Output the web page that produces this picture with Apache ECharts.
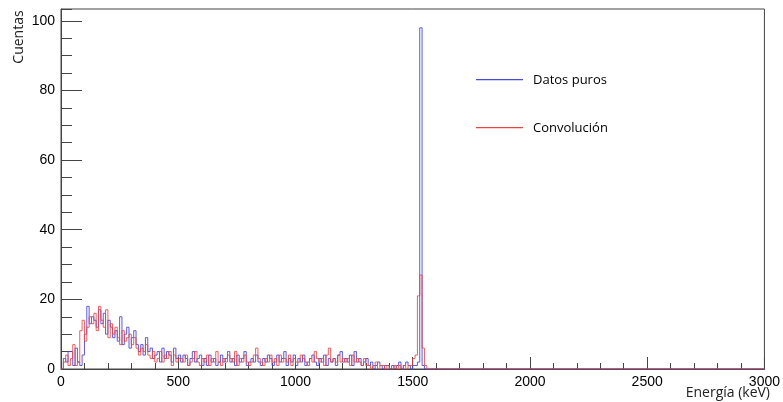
<!DOCTYPE html>
<html>
<head>
<meta charset="utf-8">
<script src="https://cdn.jsdelivr.net/npm/echarts@6/dist/echarts.min.js"></script>
<style>
html,body{margin:0;padding:0;background:#fff;}
#c{width:783px;height:402px;}
</style>
</head>
<body>
<div id="c"></div>
<script>
// Histogram bin width (keV)
const binWidth = 10;
const xMax = 3000;
// Counts per 10 keV bin from 0 to 1600 keV (after that all zero)
const datosPuros = [
  3,2,5,5,1,6,2,1,4,10,
  18,13,15,14,12,17,13,16,10,14,
  12,9,11,8,15,7,10,12,6,9,
  11,7,5,7,4,9,5,6,3,4,
  5,2,6,3,5,4,2,6,3,4,
  2,4,3,1,3,5,2,3,4,1,
  3,1,4,2,3,1,2,4,2,3,
  5,2,3,1,4,2,3,5,1,2,
  3,2,4,2,1,3,2,4,3,1,
  2,4,2,3,5,1,3,2,4,1,
  3,2,4,1,2,3,4,2,1,3,
  2,4,1,3,2,3,1,4,5,2,
  3,2,4,1,5,2,3,1,2,3,
  1,2,0,1,2,1,0,1,1,0,
  1,0,1,2,0,1,2,1,0,1,
  1,2,98,1,0,0,0,0,0,0
];
const convolucion = [
  2,4,1,3,7,1,2,11,14,8,
  12,15,13,16,11,18,14,12,17,9,
  13,10,12,9,7,11,8,9,10,7,
  9,6,4,6,5,7,4,3,5,2,
  3,5,2,4,3,5,1,4,2,3,
  3,2,4,1,2,3,5,2,1,3,
  2,4,1,3,2,5,2,1,3,2,
  4,3,2,5,1,3,2,4,2,1,
  2,4,6,3,2,1,3,2,4,2,
  3,1,4,2,3,2,4,1,3,2,
  2,4,3,2,1,3,2,5,3,2,
  3,1,4,6,2,3,2,4,2,3,
  2,3,1,4,2,3,2,1,3,1,
  1,0,1,2,0,1,1,0,1,0,
  0,1,0,1,0,1,0,1,1,3,
  4,21,27,6,1,0,0,0,0,0
];
const seriesNames = ['Datos puros', 'Convolución'];
const seriesColors = ['#4a4ad6', '#e84545'];
const xTitle = 'Energía (keV)';
const yTitle = 'Cuentas';

// bin i covers [i*binWidth, (i+1)*binWidth]; with step 'end' each point closes its bin
function toSteps(vals){
  const pts = [[0,0]];
  vals.forEach((v,i)=>pts.push([(i+1)*binWidth, v]));
  pts.push([xMax, 0]);
  return pts;
}

const chart = echarts.init(document.getElementById('c'), null, {renderer:'canvas'});
const labelFont = {fontFamily:'Liberation Sans', fontSize:14, color:'#000'};
const legendText = {fontFamily:'Open Sans', fontSize:13, fill:'#000', verticalAlign:'middle'};
chart.setOption({
  animation:false,
  backgroundColor:'#fff',
  grid:{left:61, right:14, top:9, bottom:33, show:true, borderColor:'#444', borderWidth:1, backgroundColor:'transparent'},
  xAxis:{
    type:'value', min:0, max:xMax, interval:500,
    axisLine:{show:true, lineStyle:{color:'#444'}},
    axisTick:{show:true, inside:true, length:12, lineStyle:{color:'#444'}},
    minorTick:{show:true, splitNumber:5, length:6, lineStyle:{color:'#444'}},
    splitLine:{show:false},
    axisLabel:Object.assign({margin:6, formatter:v=>String(v)}, labelFont)
  },
  yAxis:[{
    type:'value', min:0, max:103.4, interval:20,
    axisLine:{show:true, lineStyle:{color:'#444'}},
    axisTick:{show:true, inside:true, length:21, lineStyle:{color:'#444'}},
    splitLine:{show:false},
    axisLabel:Object.assign({margin:6, showMaxLabel:false, formatter:v=> (v%20===0? String(v):'')}, labelFont)
  },{
    type:'value', min:0, max:103.4, interval:5, position:'left',
    axisLine:{show:false},
    axisTick:{show:true, inside:true, length:11, lineStyle:{color:'#444'}},
    splitLine:{show:false},
    axisLabel:{show:false}
  }],
  series:seriesNames.map((n,i)=>({
    name:n, type:'line', step:'end', showSymbol:false, symbol:'none',
    data:toSteps(i===0?datosPuros:convolucion),
    color:seriesColors[i], itemStyle:{color:seriesColors[i]},
    lineStyle:{width:1, color:seriesColors[i], opacity:i===0?0.9:0.85}
  })),
  graphic:[
    {type:'rect', shape:{x:476, y:79, width:47, height:1.3}, style:{fill:seriesColors[0]}},
    {type:'text', x:533, y:80, style:Object.assign({text:seriesNames[0]}, legendText)},
    {type:'rect', shape:{x:476, y:127, width:47, height:1.3}, style:{fill:seriesColors[1]}},
    {type:'text', x:533, y:128, style:Object.assign({text:seriesNames[1]}, legendText)},
    {type:'text', x:19, y:37, rotation:Math.PI/2,
     style:{text:yTitle, fontFamily:'Open Sans', fontSize:14, fill:'#222', align:'center', verticalAlign:'middle'}},
    {type:'text', right:13, top:386,
     style:{text:xTitle, fontFamily:'Open Sans', fontSize:14, fill:'#222'}}
  ]
});
</script>
</body>
</html>
